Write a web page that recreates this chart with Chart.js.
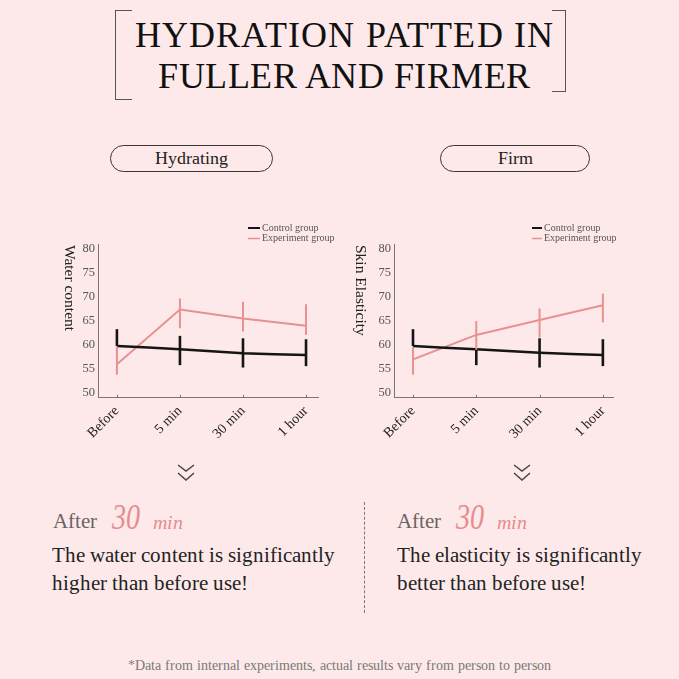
<!DOCTYPE html>
<html><head><meta charset="utf-8">
<script src="https://cdn.jsdelivr.net/npm/chart.js@4.4.0/dist/chart.umd.min.js"></script>
<style>
@font-face{font-family:'RefSerif';src:local('Liberation Serif'),local('LiberationSerif-Regular'),local('LiberationSerif');font-style:normal;font-weight:400;}
@font-face{font-family:'RefSerif';src:local('Liberation Serif Italic'),local('LiberationSerif-Italic');font-style:italic;font-weight:400;}
html,body{margin:0;padding:0;}
body{width:679px;height:679px;background:#fde9ea;position:relative;overflow:hidden;color:#1a1a1a;}
.t{position:absolute;white-space:nowrap;line-height:1;}
.pill{position:absolute;box-sizing:border-box;border:1.3px solid #3a3535;border-radius:14px;height:27px;text-align:center;font-size:17.5px;line-height:24px;color:#222;}
.brL{position:absolute;border-left:1.5px solid #555;border-top:1.5px solid #555;border-bottom:1.5px solid #555;}
.brR{position:absolute;border-right:1.5px solid #555;border-top:1.5px solid #555;border-bottom:1.5px solid #555;}
canvas{position:absolute;}
.after{color:#6b6262;font-size:21px;}
.num{color:#e68d8d;font-style:italic;font-size:36px;transform:scaleX(0.78);transform-origin:left bottom;}
.min{color:#e68d8d;font-style:italic;font-size:20px;}
.txt{font-size:21.3px;color:#222;}
</style></head><body>

<div class="brL" style="left:115px;top:10px;width:16px;height:88px;"></div>
<div class="brR" style="left:552px;top:10px;width:13px;height:80px;"></div>
<div class="t" style="font-family:'RefSerif','Liberation Serif';left:5px;width:679px;text-align:center;top:16.5px;font-size:36px;letter-spacing:1.2px;color:#111;">HYDRATION PATTED IN</div>
<div class="t" style="font-family:'RefSerif','Liberation Serif';left:5px;width:679px;text-align:center;top:58px;font-size:36px;letter-spacing:0.5px;color:#111;">FULLER AND FIRMER</div>

<div class="pill" style="font-family:'RefSerif','Liberation Serif';left:110px;top:145px;width:163px;">Hydrating</div>
<div class="pill" style="font-family:'RefSerif','Liberation Serif';left:440px;top:145px;width:150px;">Firm</div>

<canvas id="c1" width="290" height="230" style="left:50px;top:215px;"></canvas>
<canvas id="c2" width="290" height="230" style="left:346px;top:215px;"></canvas>

<svg style="position:absolute;left:177px;top:464px" width="20" height="20"><polyline points="1,1 9,7 17,1" fill="none" stroke="#444" stroke-width="1.4"/><polyline points="1,9 9,16 17,9" fill="none" stroke="#444" stroke-width="1.4"/></svg>
<svg style="position:absolute;left:513px;top:464px" width="20" height="20"><polyline points="1,1 9,7 17,1" fill="none" stroke="#444" stroke-width="1.4"/><polyline points="1,9 9,16 17,9" fill="none" stroke="#444" stroke-width="1.4"/></svg>

<div style="position:absolute;left:364px;top:502px;height:111px;border-left:1px dashed #777;"></div>

<div class="t after" style="font-family:'RefSerif','Liberation Serif';left:53px;top:511px;">After</div>
<div class="t num" style="font-family:'RefSerif','Liberation Serif';left:112px;top:499px;">30</div>
<div class="t min" style="font-family:'RefSerif','Liberation Serif';left:153px;top:512px;">min</div>
<div class="t txt" style="font-family:'RefSerif','Liberation Serif';left:52px;top:545px;">The water content is significantly</div>
<div class="t txt" style="font-family:'RefSerif','Liberation Serif';left:52px;top:573px;">higher than before use!</div>

<div class="t after" style="font-family:'RefSerif','Liberation Serif';left:397px;top:511px;">After</div>
<div class="t num" style="font-family:'RefSerif','Liberation Serif';left:456px;top:499px;">30</div>
<div class="t min" style="font-family:'RefSerif','Liberation Serif';left:497px;top:512px;">min</div>
<div class="t txt" style="font-family:'RefSerif','Liberation Serif';left:397px;top:545px;">The elasticity is significantly</div>
<div class="t txt" style="font-family:'RefSerif','Liberation Serif';left:397px;top:573px;">better than before use!</div>

<div class="t" style="font-family:'RefSerif','Liberation Serif';left:0;width:679px;text-align:center;top:659px;font-size:13.8px;color:#777;">*Data from internal experiments, actual results vary from person to person</div>

<script>
const categories = ['Before', '5 min', '30 min', '1 hour'];
const yTickValues = [50, 55, 60, 65, 70, 75, 80];
const seriesLabels = ['Control group', 'Experiment group'];

const hydControl = [59.8, 59.1, 58.3, 57.9];
const hydControlLow = [59.8, 55.8, 55.3, 55.6];
const hydControlHigh = [63.3, 61.9, 61.4, 61.2];
const hydExperiment = [56.0, 67.4, 65.5, 64.0];
const hydExperimentLow = [53.8, 63.5, 62.8, 62.1];
const hydExperimentHigh = [59.7, 69.7, 69.0, 68.5];

const firmControl = [59.8, 59.1, 58.4, 57.9];
const firmControlLow = [59.8, 55.8, 55.3, 55.6];
const firmControlHigh = [63.3, 59.1, 61.4, 61.2];
const firmExperiment = [57.0, 62.1, 65.2, 68.3];
const firmExperimentLow = [53.8, 59.0, 61.6, 64.7];
const firmExperimentHigh = [59.6, 65.0, 67.6, 70.7];

const BLACK = '#151515';
const PINK = '#e8918f';
const SERIF = "'Liberation Serif'";

const errorBars = {
  id: 'errorBars',
  afterDatasetsDraw(chart) {
    const {ctx, scales: {x, y}} = chart;
    chart.data.datasets.forEach(ds => {
      ctx.save();
      ctx.strokeStyle = ds.borderColor;
      ctx.lineWidth = ds.errWidth;
      ds.data.forEach((p, i) => {
        const px = x.getPixelForValue(p.x);
        ctx.beginPath();
        ctx.moveTo(px, y.getPixelForValue(ds.errLow[i]));
        ctx.lineTo(px, y.getPixelForValue(ds.errHigh[i]));
        ctx.stroke();
      });
      ctx.restore();
    });
  }
};

const decorations = {
  id: 'decorations',
  afterDraw(chart, args, opts) {
    const {ctx, scales: {x, y}} = chart;
    ctx.save();
    ctx.strokeStyle = '#777';
    ctx.lineWidth = 1;
    categories.forEach((c, i) => {
      const px = Math.round(x.getPixelForValue(i)) + 0.5;
      ctx.beginPath();
      ctx.moveTo(px, y.bottom - 3);
      ctx.lineTo(px, y.bottom);
      ctx.stroke();
    });
    ctx.save();
    ctx.translate(opts.titleX, opts.titleY);
    ctx.rotate(Math.PI / 2);
    ctx.fillStyle = '#222';
    ctx.font = '15.5px ' + SERIF;
    ctx.textAlign = 'left';
    ctx.textBaseline = 'middle';
    ctx.fillText(opts.title, 0, 0);
    ctx.restore();
    const colors = [BLACK, PINK];
    const widths = [2, 1.5];
    ctx.font = '10px ' + SERIF;
    ctx.textBaseline = 'middle';
    ctx.textAlign = 'left';
    seriesLabels.forEach((lab, i) => {
      const ly = opts.legendY + i * 10.5;
      ctx.strokeStyle = colors[i];
      ctx.lineWidth = widths[i];
      ctx.beginPath();
      ctx.moveTo(opts.legendX, ly);
      ctx.lineTo(opts.legendX + opts.sample, ly);
      ctx.stroke();
      ctx.fillStyle = '#555';
      ctx.fillText(lab, opts.legendX + opts.sample + 2, ly);
    });
    ctx.restore();
  }
};

function makeChart(id, ctl, ctlLow, ctlHigh, exp, expLow, expHigh, deco, padRight, xMax) {
  return new Chart(document.getElementById(id), {
    type: 'line',
    data: {
      datasets: [
        {label: seriesLabels[0], data: ctl.map((v, i) => ({x: i, y: v})), errLow: ctlLow, errHigh: ctlHigh,
         borderColor: BLACK, borderWidth: 2.5, errWidth: 2.6, pointRadius: 0, tension: 0.2, fill: false},
        {label: seriesLabels[1], data: exp.map((v, i) => ({x: i, y: v})), errLow: expLow, errHigh: expHigh,
         borderColor: PINK, borderWidth: 2, errWidth: 2, pointRadius: 0, tension: 0, fill: false}
      ]
    },
    options: {
      responsive: false,
      devicePixelRatio: 1,
      animation: false,
      layout: {padding: {top: 29.2, right: padRight, bottom: 0, left: 0}},
      plugins: {legend: {display: false}, tooltip: {enabled: false}, decorations: deco},
      scales: {
        x: {
          type: 'linear', min: -0.3, max: xMax,
          afterBuildTicks: s => { s.ticks = categories.map((c, i) => ({value: i})); },
          afterFit: s => { s.height = 47.2; },
          grid: {display: true, drawOnChartArea: false, drawTicks: false},
          border: {display: true, color: '#7a7474', width: 1},
          ticks: {autoSkip: false, minRotation: 45, maxRotation: 45, padding: 5, color: '#222',
                  font: {family: SERIF, size: 14}, callback: v => categories[v]}
        },
        y: {
          min: 49, max: 81,
          afterBuildTicks: s => { s.ticks = yTickValues.map(v => ({value: v})); },
          afterFit: s => { s.width = 48; },
          grid: {display: true, drawOnChartArea: false, drawTicks: false},
          border: {display: true, color: '#7a7474', width: 1},
          ticks: {padding: 3, color: '#555', font: {family: SERIF, size: 12.5}}
        }
      }
    },
    plugins: [errorBars, decorations]
  });
}

makeChart('c1', hydControl, hydControlLow, hydControlHigh, hydExperiment, hydExperimentLow, hydExperimentHigh,
  {title: 'Water content', titleX: 19, titleY: 30, legendX: 198, legendY: 13, sample: 12}, 22, 3.19);
makeChart('c2', firmControl, firmControlLow, firmControlHigh, firmExperiment, firmExperimentLow, firmExperimentHigh,
  {title: 'Skin Elasticity', titleX: 14, titleY: 30, legendX: 186, legendY: 13, sample: 10}, 23, 3.16);
</script>
</body></html>
